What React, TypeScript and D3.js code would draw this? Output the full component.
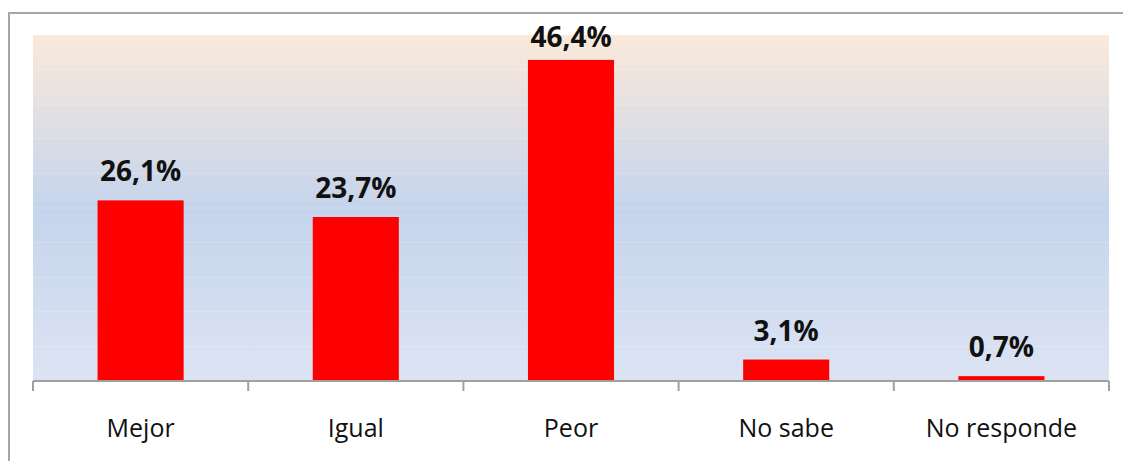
import React from "react";
import * as d3 from "d3";

const categories = ["Mejor", "Igual", "Peor", "No sabe", "No responde"];
const values = [26.1, 23.7, 46.4, 3.1, 0.7];
const valueLabels = ["26,1%", "23,7%", "46,4%", "3,1%", "0,7%"];
const gridTicks = [5, 10, 15, 20, 25, 30, 35, 40, 45, 50];

const W = 1123;
const H = 461;
const plot = { left: 33, right: 1109, top: 35, bottom: 381 };

export default function App() {
  const x = d3
    .scaleBand<string>()
    .domain(categories)
    .range([plot.left, plot.right])
    .paddingInner(0.6)
    .paddingOuter(0.3);
  const y = d3.scaleLinear().domain([0, 50]).range([plot.bottom, plot.top]);
  const band = (plot.right - plot.left) / categories.length;
  const tickXs = d3.range(categories.length + 1).map((i) => plot.left + i * band);

  return (
    <svg
      width={W}
      height={H}
      style={{ position: "absolute", left: 0, top: 0, display: "block" }}
    >
      <defs>
        <linearGradient id="bg" x1="0" y1="0" x2="0" y2="1">
          <stop offset="0" stopColor="#FBE9DA" />
          <stop offset="0.5" stopColor="#C5D4EC" />
          <stop offset="1" stopColor="#DCE4F3" />
        </linearGradient>
      </defs>
      <rect x={0} y={0} width={W} height={H} fill="#ffffff" />
      <rect
        x={9}
        y={13}
        width={W + 20}
        height={H + 20}
        fill="#ffffff"
        stroke="#A6A6A6"
        strokeWidth={2}
      />
      <rect
        x={plot.left}
        y={plot.top}
        width={plot.right - plot.left}
        height={plot.bottom - plot.top}
        fill="url(#bg)"
      />
      {gridTicks.map((t) => (
        <line
          key={t}
          x1={plot.left}
          x2={plot.right + 3}
          y1={y(t)}
          y2={y(t)}
          stroke="#ffffff"
          strokeOpacity={0.22}
          strokeWidth={1}
        />
      ))}
      {categories.map((c, i) => (
        <rect
          key={c}
          x={x(c)}
          y={y(values[i])}
          width={x.bandwidth()}
          height={y(0) - y(values[i])}
          fill="#FF0000"
        />
      ))}
      <line
        x1={plot.left}
        x2={plot.right}
        y1={plot.bottom}
        y2={plot.bottom}
        stroke="#A0A0A0"
        strokeWidth={2}
      />
      {tickXs.map((tx, i) => (
        <line
          key={i}
          x1={tx}
          x2={tx}
          y1={plot.bottom}
          y2={plot.bottom + 10}
          stroke="#A0A0A0"
          strokeWidth={2}
        />
      ))}
      {categories.map((c, i) => (
        <text
          key={c}
          x={(x(c) as number) + x.bandwidth() / 2}
          y={Math.max(y(values[i]) - 19, 47)}
          textAnchor="middle"
          fontFamily="'Open Sans', sans-serif"
          fontWeight="bold"
          fontSize={28}
          fill="#111111"
        >
          {valueLabels[i]}
        </text>
      ))}
      {categories.map((c) => (
        <text
          key={c}
          x={(x(c) as number) + x.bandwidth() / 2}
          y={437}
          textAnchor="middle"
          fontFamily="'Open Sans', sans-serif"
          fontSize={25}
          fill="#111111"
        >
          {c}
        </text>
      ))}
    </svg>
  );
}
